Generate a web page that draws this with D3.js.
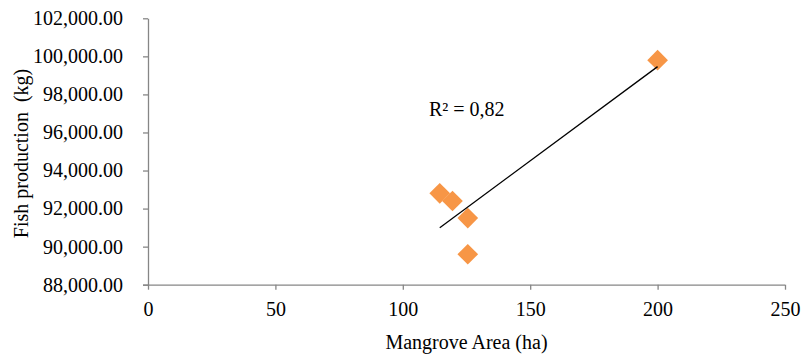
<!DOCTYPE html>
<html>
<head>
<meta charset="utf-8">
<script src="https://cdn.jsdelivr.net/npm/d3@7"></script>
<style>
  html, body { margin: 0; padding: 0; background: #fff; }
  svg { display: block; }
  text { font-family: "Liberation Serif", "Times New Roman", serif; fill: #000; }
</style>
</head>
<body>
<svg id="chart" width="803" height="356"></svg>
<script>
// ---- data ----
const mangroveArea = [114.5, 119.5, 125.5, 125.5, 200];
const fishProduction = [92800, 92400, 91500, 89600, 99800];
const xTicks = [0, 50, 100, 150, 200, 250];
const yTicks = [88000, 90000, 92000, 94000, 96000, 98000, 100000, 102000];
const xTitle = "Mangrove Area (ha)";
const yTitle = "Fish production  (kg)";

// ---- layout ----
const plotL = 148, plotR = 785, plotT = 18.3, plotB = 284.7;
const svg = d3.select("#chart");
const axisColor = "#868686";
const markerColor = "#F79646";

const x = d3.scaleLinear().domain([0, 250]).range([plotL, plotR]);
const y = d3.scaleLinear().domain([88000, 102000]).range([plotB, plotT]);

// x axis
const gx = svg.append("g").attr("transform", `translate(0,${plotB})`)
  .call(d3.axisBottom(x).tickValues(xTicks).tickSize(5).tickPadding(12).tickSizeOuter(0));
gx.select(".domain").attr("stroke", axisColor).attr("stroke-width", 1.3)
  .attr("d", `M${plotL - 5},0.5H${plotR}`);
gx.selectAll(".tick line").attr("stroke", axisColor).attr("stroke-width", 1.3);
gx.selectAll(".tick text").attr("font-size", 20).attr("font-family", "Liberation Serif").attr("fill", "#000");

// y axis
const gy = svg.append("g").attr("transform", `translate(${plotL},0)`)
  .call(d3.axisLeft(y).tickValues(yTicks).tickFormat(d3.format(",.2f")).tickSize(5).tickPadding(20).tickSizeOuter(0));
gy.select(".domain").attr("stroke", axisColor).attr("stroke-width", 1.3);
gy.selectAll(".tick line").attr("stroke", axisColor).attr("stroke-width", 1.3);
gy.selectAll(".tick text").attr("font-size", 20).attr("font-family", "Liberation Serif").attr("fill", "#000");

// trendline (least squares)
const n = mangroveArea.length;
const mx = d3.mean(mangroveArea), my = d3.mean(fishProduction);
let sxy = 0, sxx = 0, syy = 0;
for (let i = 0; i < n; i++) {
  const dx = mangroveArea[i] - mx, dy = fishProduction[i] - my;
  sxy += dx * dy; sxx += dx * dx; syy += dy * dy;
}
const slope = sxy / sxx, intercept = my - slope * mx;
const r2 = (sxy * sxy) / (sxx * syy);
const [xmin, xmax] = d3.extent(mangroveArea);

// points
svg.append("g").selectAll("path")
  .data(mangroveArea.map((a, i) => [a, fishProduction[i]]))
  .join("path")
  .attr("d", d3.symbol(d3.symbolSquare, 214))
  .attr("transform", d => `translate(${x(d[0])},${y(d[1])}) rotate(45)`)
  .attr("fill", markerColor);

svg.append("line")
  .attr("x1", x(xmin)).attr("y1", y(intercept + slope * xmin))
  .attr("x2", x(xmax)).attr("y2", y(intercept + slope * xmax))
  .attr("stroke", "#000").attr("stroke-width", 1.3);

// R² label
svg.append("text")
  .attr("x", 429).attr("y", 116)
  .attr("font-size", 20)
  .text("R\u00B2 = " + r2.toFixed(2).replace(".", ","));

// axis titles
svg.append("text")
  .attr("x", (plotL + plotR) / 2).attr("y", 348.5)
  .attr("text-anchor", "middle").attr("font-size", 20)
  .text(xTitle);

svg.append("text")
  .attr("transform", `translate(28,${(plotT + plotB) / 2 + 2}) rotate(-90)`)
  .attr("text-anchor", "middle").attr("font-size", 20)
  .style("white-space", "pre")
  .text(yTitle);
</script>
</body>
</html>
